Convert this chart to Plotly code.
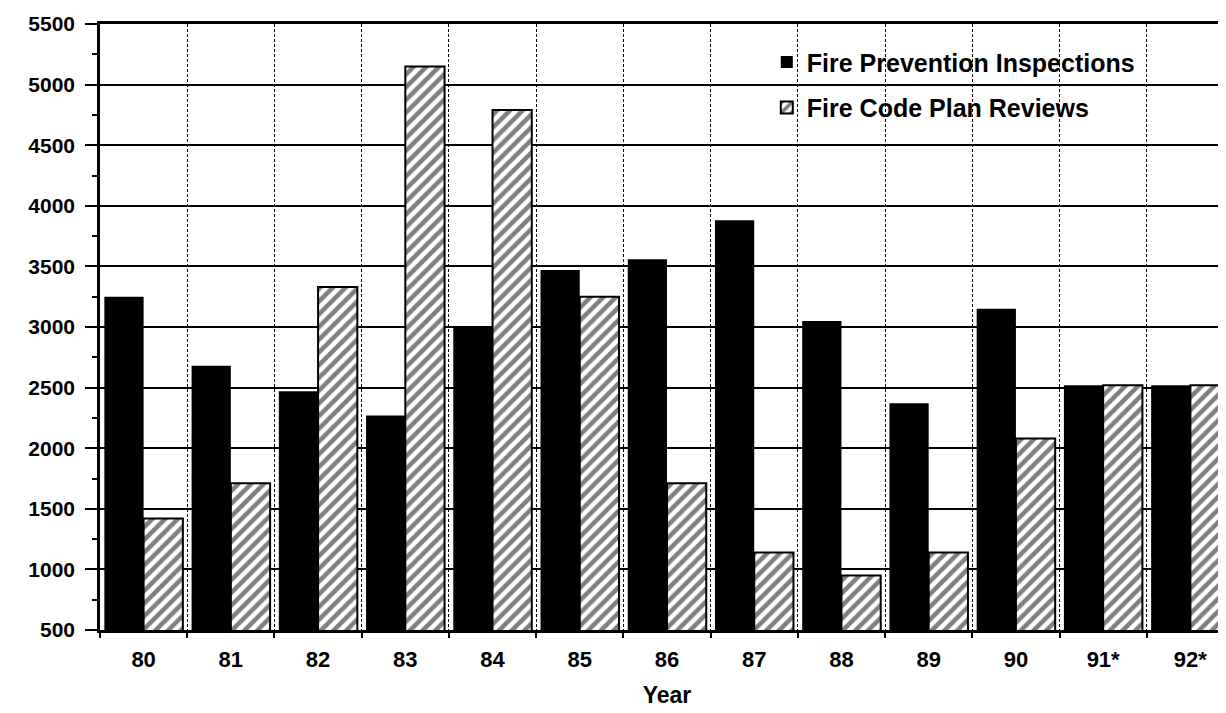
import plotly.graph_objects as go

# data
years = ["80", "81", "82", "83", "84", "85", "86", "87", "88", "89", "90", "91*", "92*"]
inspections = [3250, 2680, 2470, 2270, 3000, 3470, 3560, 3880, 3050, 2370, 3150, 2520, 2520]
plan_reviews = [1420, 1710, 3330, 5150, 4790, 3250, 1710, 1140, 950, 1140, 2080, 2520, 2520]

FONT = "Liberation Sans, Arial, Helvetica, sans-serif"

fig = go.Figure()

fig.add_trace(go.Bar(
    x=years, y=inspections,
    name="Fire Prevention Inspections",
    legendgroup="a",
    marker=dict(color="black", line=dict(width=0)),
))

# hatched bars: white with black diagonal stripes
fig.add_trace(go.Bar(
    x=years, y=plan_reviews,
    name="Fire Code Plan Reviews",
    legendgroup="b",
    marker=dict(
        color="white",
        line=dict(color="black", width=2),
        pattern=dict(shape="/", fgcolor="black", bgcolor="white", size=9, solidity=0.5),
    ),
))

fig.update_layout(
    width=1226, height=713,
    margin=dict(l=92, r=0, t=16, b=91),
    paper_bgcolor="white",
    plot_bgcolor="white",
    barmode="group",
    bargap=0.1,
    bargroupgap=0.0,
    font=dict(family=FONT, color="black", size=20, weight="bold"),
    legend=dict(
        x=0.588, y=0.975, xanchor="left", yanchor="top",
        bgcolor="rgba(0,0,0,0)",
        font=dict(family=FONT, size=25, weight="bold", color="black"),
        tracegroupgap=10,
    ),
    showlegend=True,
)

fig.update_xaxes(
    type="category",
    automargin=False,
    tickson="boundaries",
    ticks="outside", ticklen=5, tickwidth=1.5, tickcolor="black",
    showgrid=True, gridcolor="black", gridwidth=1.3, griddash="3px,2px",
    showline=True, linecolor="black", linewidth=2.5, mirror=True,
    tickfont=dict(family=FONT, size=22, weight="bold"),
    ticklabelstandoff=8,
    title=dict(text="Year", font=dict(family=FONT, size=23, weight="bold"), standoff=16),
)

fig.update_yaxes(
    range=[500, 5500],
    automargin=False,
    dtick=500,
    tick0=500,
    ticks="outside", ticklen=12, tickwidth=2, tickcolor="black",
    minor=dict(dtick=250, ticks="outside", ticklen=5, tickwidth=1.5, tickcolor="black", showgrid=False),
    showgrid=True, gridcolor="black", gridwidth=2,
    showline=True, linecolor="black", linewidth=2.5,
    zeroline=False,
    tickfont=dict(family=FONT, size=21, weight="bold"),
    ticklabelstandoff=6,
)

fig.write_html("out.html")
